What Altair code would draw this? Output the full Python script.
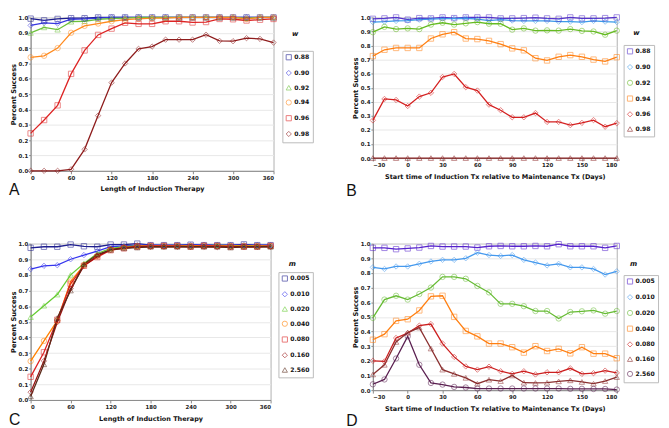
import altair as alt
import pandas as pd

# ---------------- data ----------------
a_x = [0, 20, 40, 60, 80, 100, 120, 140, 160, 180, 200, 220, 240, 260, 280, 300, 320, 340, 360]
a_series = ["0.88", "0.90", "0.92", "0.94", "0.96", "0.98"]
a_vals = {
    "0.88": [0.992, 0.981, 0.99, 0.995, 0.995, 1.0, 1.0, 1.0, 1.0, 1.0, 1.0, 1.0, 1.0, 1.0, 1.0, 1.0, 1.0, 1.0, 1.0],
    "0.90": [0.948, 0.965, 0.96, 0.988, 0.99, 0.995, 1.0, 1.0, 1.0, 1.0, 1.0, 1.0, 1.0, 1.0, 1.0, 1.0, 1.0, 1.0, 1.0],
    "0.92": [0.899, 0.935, 0.92, 0.972, 0.975, 0.988, 0.993, 0.996, 1.0, 1.0, 1.0, 1.0, 1.0, 1.0, 1.0, 1.0, 0.995, 1.0, 1.0],
    "0.94": [0.74, 0.75, 0.80, 0.90, 0.945, 0.96, 0.975, 0.985, 0.99, 0.995, 0.995, 1.0, 1.0, 1.0, 1.0, 1.0, 0.99, 1.0, 1.0],
    "0.96": [0.244, 0.331, 0.427, 0.632, 0.785, 0.886, 0.927, 0.965, 0.958, 0.958, 0.975, 0.975, 0.967, 0.97, 0.99, 0.988, 0.98, 0.985, 0.99],
    "0.98": [0.0, 0.0, 0.0, 0.01, 0.14, 0.36, 0.575, 0.70, 0.795, 0.81, 0.855, 0.855, 0.855, 0.887, 0.847, 0.845, 0.865, 0.86, 0.836],
}
a_colors = ["#1c1c8e", "#3838e0", "#6cc13a", "#ff8a1e", "#dd2424", "#8e1c1c"]
a_shapes = ["square", "diamond", "triangle-up", "circle", "square", "diamond"]

b_x = [-30, -20, -10, 0, 10, 20, 30, 40, 50, 60, 70, 80, 90, 100, 110, 120, 130, 140, 150, 160, 170, 180]
b_series = ["0.88", "0.90", "0.92", "0.94", "0.96", "0.98"]
b_vals = {
    "0.88": [0.99, 0.993, 1.0, 0.984, 0.995, 0.993, 1.0, 0.995, 1.0, 1.0, 1.0, 0.993, 0.993, 0.995, 0.998, 0.993, 0.99, 1.0, 0.993, 0.993, 0.995, 1.0],
    "0.90": [0.967, 0.97, 0.975, 0.978, 0.984, 0.988, 0.992, 0.992, 0.994, 0.988, 0.978, 0.984, 0.978, 0.975, 0.975, 0.975, 0.97, 0.97, 0.967, 0.975, 0.97, 0.967],
    "0.92": [0.895, 0.933, 0.917, 0.922, 0.917, 0.949, 0.962, 0.949, 0.958, 0.967, 0.955, 0.955, 0.913, 0.922, 0.906, 0.908, 0.906, 0.917, 0.904, 0.90, 0.877, 0.906],
    "0.94": [0.725, 0.77, 0.783, 0.783, 0.783, 0.85, 0.88, 0.895, 0.85, 0.846, 0.833, 0.81, 0.78, 0.766, 0.71, 0.694, 0.72, 0.732, 0.72, 0.70, 0.687, 0.717],
    "0.96": [0.268, 0.42, 0.413, 0.37, 0.437, 0.464, 0.576, 0.598, 0.504, 0.48, 0.38, 0.34, 0.29, 0.29, 0.32, 0.257, 0.257, 0.234, 0.25, 0.27, 0.223, 0.248],
    "0.98": [0.0, 0.0, 0.0, 0.0, 0.0, 0.0, 0.0, 0.0, 0.0, 0.0, 0.0, 0.0, 0.0, 0.0, 0.0, 0.0, 0.0, 0.0, 0.0, 0.0, 0.0, 0.0],
}
b_colors = ["#5533cc", "#3d9be9", "#66bb22", "#ff7f11", "#d42020", "#8b2525"]
b_shapes = ["square", "diamond", "circle", "square", "diamond", "triangle-up"]

c_x = [0, 20, 40, 60, 80, 100, 120, 140, 160, 180, 200, 220, 240, 260, 280, 300, 320, 340, 360]
c_series = ["0.005", "0.010", "0.020", "0.040", "0.080", "0.160", "2.560"]
c_vals = {
    "0.005": [0.973, 0.98, 0.98, 0.994, 0.983, 0.98, 0.994, 0.994, 1.0, 0.99, 0.99, 0.99, 0.993, 0.99, 0.99, 0.99, 0.995, 0.99, 0.99],
    "0.010": [0.837, 0.858, 0.862, 0.90, 0.927, 0.952, 0.98, 0.985, 0.99, 0.99, 0.988, 0.99, 0.99, 0.993, 0.99, 0.99, 0.99, 0.99, 0.99],
    "0.020": [0.53, 0.603, 0.674, 0.80, 0.873, 0.937, 0.969, 0.98, 0.985, 0.985, 0.985, 0.988, 0.985, 0.985, 0.99, 0.985, 0.985, 0.985, 0.985],
    "0.040": [0.248, 0.378, 0.507, 0.758, 0.862, 0.92, 0.962, 0.975, 0.985, 0.985, 0.985, 0.985, 0.985, 0.988, 0.985, 0.985, 0.985, 0.985, 0.985],
    "0.080": [0.148, 0.305, 0.513, 0.743, 0.858, 0.914, 0.958, 0.97, 0.98, 0.985, 0.985, 0.985, 0.98, 0.985, 0.985, 0.98, 0.98, 0.98, 0.985],
    "0.160": [0.05, 0.25, 0.497, 0.712, 0.858, 0.92, 0.962, 0.975, 0.98, 0.98, 0.98, 0.98, 0.98, 0.98, 0.978, 0.98, 0.98, 0.98, 0.98],
    "2.560": [0.023, 0.228, 0.524, 0.70, 0.868, 0.93, 0.96, 0.97, 0.975, 0.98, 0.98, 0.98, 0.98, 0.98, 0.98, 0.975, 0.98, 0.98, 0.98],
}
c_colors = ["#1f1f8f", "#3535ee", "#66cc33", "#ff8000", "#dd2222", "#9a1212", "#5a2a1a"]
c_shapes = ["square", "diamond", "triangle-up", "circle", "square", "diamond", "triangle-up"]

d_x = [-30, -20, -10, 0, 10, 20, 30, 40, 50, 60, 70, 80, 90, 100, 110, 120, 130, 140, 150, 160, 170, 180]
d_series = ["0.005", "0.010", "0.020", "0.040", "0.080", "0.160", "2.560"]
d_vals = {
    "0.005": [0.971, 0.971, 0.962, 0.967, 0.973, 0.984, 0.98, 0.98, 0.98, 0.973, 0.982, 0.984, 0.982, 0.982, 0.984, 0.982, 0.996, 0.982, 0.982, 0.982, 0.971, 0.984],
    "0.010": [0.838, 0.827, 0.844, 0.844, 0.862, 0.878, 0.889, 0.889, 0.90, 0.938, 0.922, 0.916, 0.922, 0.889, 0.871, 0.851, 0.862, 0.838, 0.838, 0.827, 0.789, 0.811],
    "0.020": [0.493, 0.618, 0.644, 0.618, 0.656, 0.70, 0.773, 0.773, 0.76, 0.711, 0.667, 0.589, 0.589, 0.573, 0.54, 0.54, 0.489, 0.533, 0.538, 0.544, 0.522, 0.54],
    "0.040": [0.344, 0.382, 0.473, 0.484, 0.544, 0.64, 0.644, 0.50, 0.404, 0.367, 0.318, 0.318, 0.293, 0.256, 0.30, 0.267, 0.282, 0.251, 0.293, 0.249, 0.249, 0.218],
    "0.080": [0.20, 0.196, 0.356, 0.389, 0.44, 0.451, 0.318, 0.227, 0.162, 0.14, 0.16, 0.129, 0.111, 0.129, 0.107, 0.122, 0.122, 0.149, 0.111, 0.116, 0.133, 0.118],
    "0.160": [0.107, 0.173, 0.329, 0.393, 0.427, 0.284, 0.14, 0.111, 0.084, 0.044, 0.071, 0.062, 0.10, 0.051, 0.049, 0.051, 0.06, 0.067, 0.056, 0.044, 0.062, 0.089],
    "2.560": [0.04, 0.073, 0.216, 0.367, 0.173, 0.049, 0.038, 0.022, 0.018, 0.011, 0.011, 0.011, 0.011, 0.011, 0.011, 0.011, 0.011, 0.009, 0.009, 0.008, 0.008, 0.004],
}
d_colors = ["#5522cc", "#4499ee", "#66bb33", "#ff7f11", "#cc1f1f", "#8b3030", "#5a1f50"]
d_shapes = ["square", "diamond", "circle", "square", "diamond", "triangle-up", "circle"]

y_ticks = [0.0, 0.1, 0.2, 0.3, 0.4, 0.5, 0.6, 0.7, 0.8, 0.9, 1.0]
len_ticks = [0, 60, 120, 180, 240, 300, 360]
start_ticks = [-30, 0, 30, 60, 90, 120, 150, 180]
len_title = "Length of Induction Therapy"
start_title = "Start time of Induction Tx relative to Maintenance Tx (Days)"

FONT = "DejaVu Sans"


def long_df(xs, series, vals):
    rows = []
    for s in series:
        for x, v in zip(xs, vals[s]):
            rows.append({"x": x, "y": v, "s": s})
    return pd.DataFrame(rows)


def panel(xs, series, vals, colors, shapes, xdom, xticks, xtitle, w, h,
          letter, letter_pos, sym, sym_pos, leg_pos):
    df = long_df(xs, series, vals)
    base = alt.Chart(df)
    leg = alt.Legend(orient="none", legendX=leg_pos[0], legendY=leg_pos[1], title=None)
    xenc = alt.X("x:Q", scale=alt.Scale(domain=xdom, nice=False, zero=False),
                 axis=alt.Axis(values=xticks, title=xtitle, grid=False, tickSize=3,
                               labelPadding=2, titlePadding=5, titleFontSize=6.6))
    yenc = alt.Y("y:Q", scale=alt.Scale(domain=[0, 1], nice=False),
                 axis=alt.Axis(values=y_ticks, format=".1f", title="Percent Success",
                               tickSize=2, labelPadding=1, titlePadding=2))
    cenc = alt.Color("s:N", scale=alt.Scale(domain=series, range=colors), sort=series, legend=leg)
    senc = alt.Shape("s:N", scale=alt.Scale(domain=series, range=shapes), sort=series, legend=leg)
    line = base.mark_line(strokeWidth=1.3).encode(x=xenc, y=yenc, color=cenc, detail="s:N")
    pts = base.mark_point(filled=False, size=30, strokeWidth=0.9, opacity=0.6).encode(
        x=xenc, y=yenc, color=cenc, shape=senc)
    lt = alt.Chart(pd.DataFrame({"t": [letter]})).mark_text(
        font="Liberation Sans", fontSize=16, align="left", baseline="middle", color="#111"
    ).encode(x=alt.value(letter_pos[0]), y=alt.value(letter_pos[1]), text="t:N")
    st = alt.Chart(pd.DataFrame({"t": [sym]})).mark_text(
        font=FONT, fontSize=7, fontWeight="bold", fontStyle="italic", align="center",
        baseline="middle", color="#111"
    ).encode(x=alt.value(sym_pos[0]), y=alt.value(sym_pos[1]), text="t:N")
    return alt.layer(line, pts, lt, st).properties(width=w, height=h)


pA = panel(a_x, a_series, a_vals, a_colors, a_shapes, [0, 360], len_ticks, len_title,
           247, 156, "A", (-22, 176), "w", (269, 17), (256, 34))
pB = panel(b_x, b_series, b_vals, b_colors, b_shapes, [-30, 180], start_ticks, start_title,
           248, 143, "B", (-27, 177), "w", (268, 16), (255, 28))
pC = panel(c_x, c_series, c_vals, c_colors, c_shapes, [0, 360], len_ticks, len_title,
           244, 159, "C", (-22, 179), "m", (266, 21), (252, 29))
pD = panel(d_x, d_series, d_vals, d_colors, d_shapes, [-30, 180], start_ticks, start_title,
           248, 149, "D", (-27, 180), "m", (265, 21), (255, 32))

chart = alt.concat(pA, pB, pC, pD, columns=2, spacing={"row": 74, "column": 101},
                   bounds="flush").resolve_scale(
    color="independent", shape="independent"
).properties(padding={"left": 0, "top": 0, "right": 2, "bottom": 0}).configure_view(
    stroke="#b0b0b0", strokeWidth=1
).configure_axis(
    domainColor="#888888", tickColor="#888888", gridColor="#e8e8e8",
    labelFont=FONT, labelFontWeight="bold", labelFontSize=5.5, labelColor="#222222",
    titleFont=FONT, titleFontWeight="bold", titleFontSize=6.8, titleColor="#111111",
).configure_legend(
    labelFont=FONT, labelFontWeight="bold", labelFontSize=6.2, labelColor="#111111",
    symbolSize=28, symbolStrokeWidth=1, padding=3, strokeColor="#bbbbbb",
    fillColor="white", rowPadding=5, labelOffset=2, cornerRadius=0,
)

chart.save("out.html", embed_options={"renderer": "svg", "actions": False})
